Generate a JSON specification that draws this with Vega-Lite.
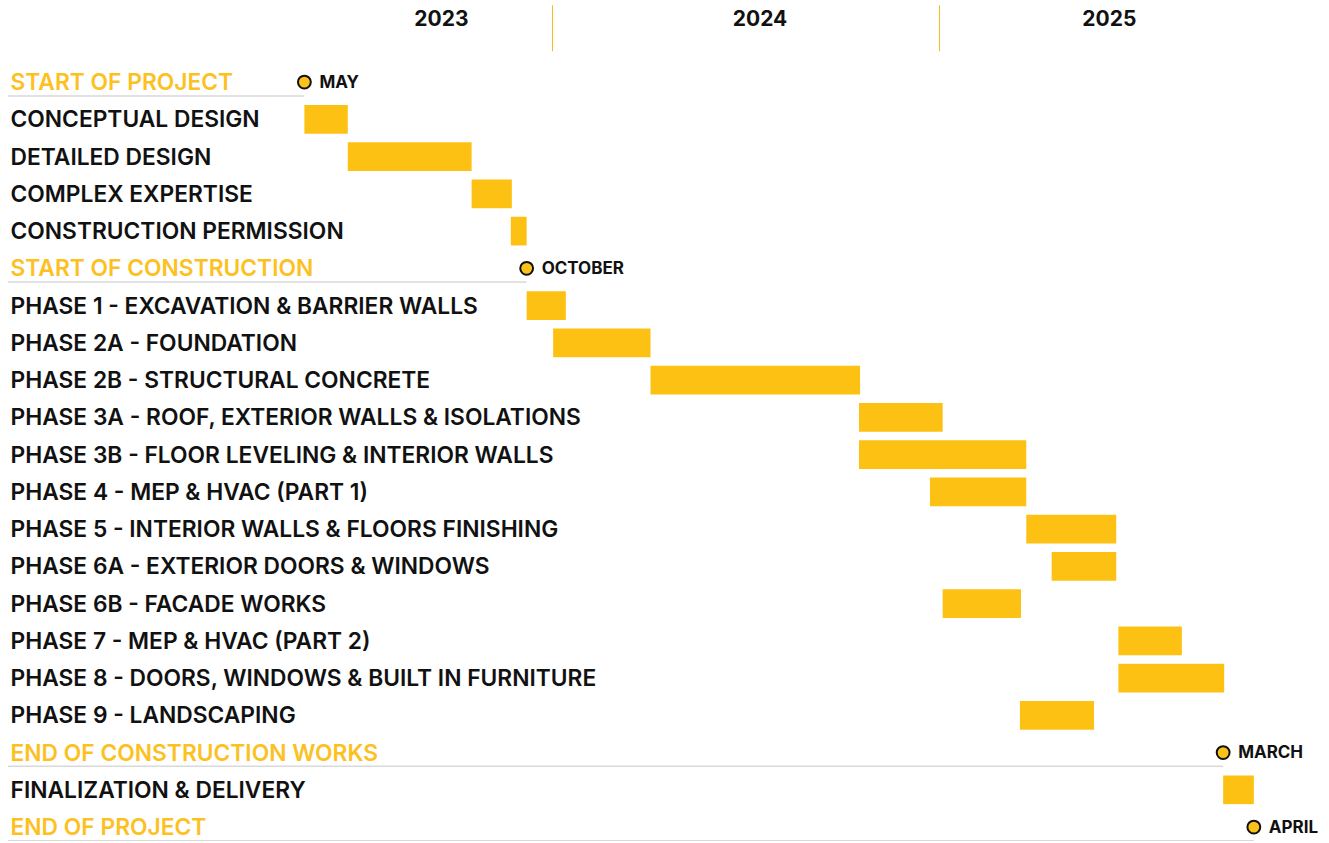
{
  "$schema": "https://vega.github.io/schema/vega-lite/v6.json",
  "width": 1321,
  "height": 773.7,
  "autosize": {"type": "none"},
  "padding": {"top": 67.75, "left": 8, "right": 0, "bottom": 0},
  "background": "white",
  "config": {"view": {"stroke": null}, "font": "Inter"},
  "data": {"values": [
    {"task": "START OF PROJECT", "type": "milestone", "start": "2023-05-12", "label": "MAY"},
    {"task": "CONCEPTUAL DESIGN", "type": "task", "start": "2023-05-12", "end": "2023-06-22"},
    {"task": "DETAILED DESIGN", "type": "task", "start": "2023-06-22", "end": "2023-10-17"},
    {"task": "COMPLEX EXPERTISE", "type": "task", "start": "2023-10-17", "end": "2023-11-24"},
    {"task": "CONSTRUCTION PERMISSION", "type": "task", "start": "2023-11-23", "end": "2023-12-08"},
    {"task": "START OF CONSTRUCTION", "type": "milestone", "start": "2023-12-08", "label": "OCTOBER"},
    {"task": "PHASE 1 - EXCAVATION & BARRIER WALLS", "type": "task", "start": "2023-12-08", "end": "2024-01-14"},
    {"task": "PHASE 2A - FOUNDATION", "type": "task", "start": "2024-01-02", "end": "2024-04-03"},
    {"task": "PHASE 2B - STRUCTURAL CONCRETE", "type": "task", "start": "2024-04-03", "end": "2024-10-18"},
    {"task": "PHASE 3A - ROOF, EXTERIOR WALLS & ISOLATIONS", "type": "task", "start": "2024-10-17", "end": "2025-01-04"},
    {"task": "PHASE 3B - FLOOR LEVELING & INTERIOR WALLS", "type": "task", "start": "2024-10-17", "end": "2025-03-24"},
    {"task": "PHASE 4 - MEP & HVAC (PART 1)", "type": "task", "start": "2024-12-23", "end": "2025-03-24"},
    {"task": "PHASE 5 - INTERIOR WALLS & FLOORS FINISHING", "type": "task", "start": "2025-03-24", "end": "2025-06-17"},
    {"task": "PHASE 6A - EXTERIOR DOORS & WINDOWS", "type": "task", "start": "2025-04-17", "end": "2025-06-17"},
    {"task": "PHASE 6B - FACADE WORKS", "type": "task", "start": "2025-01-04", "end": "2025-03-19"},
    {"task": "PHASE 7 - MEP & HVAC (PART 2)", "type": "task", "start": "2025-06-19", "end": "2025-08-18"},
    {"task": "PHASE 8 - DOORS, WINDOWS & BUILT IN FURNITURE", "type": "task", "start": "2025-06-19", "end": "2025-09-27"},
    {"task": "PHASE 9 - LANDSCAPING", "type": "task", "start": "2025-03-18", "end": "2025-05-27"},
    {"task": "END OF CONSTRUCTION WORKS", "type": "milestone", "start": "2025-09-26", "label": "MARCH"},
    {"task": "FINALIZATION & DELIVERY", "type": "task", "start": "2025-09-26", "end": "2025-10-25"},
    {"task": "END OF PROJECT", "type": "milestone", "start": "2025-10-25", "label": "APRIL"}
  ]},
  "resolve": {"scale": {"x": "shared", "y": "shared"}, "axis": {"x": "independent"}},
  "layer": [
    {
      "transform": [{"filter": "datum.type === 'task'"}],
      "mark": {"type": "bar", "color": "#FDC114", "cornerRadius": 0},
      "encoding": {
        "y": {
          "field": "task", "type": "nominal",
          "scale": {
            "domain": ["START OF PROJECT", "CONCEPTUAL DESIGN", "DETAILED DESIGN", "COMPLEX EXPERTISE", "CONSTRUCTION PERMISSION", "START OF CONSTRUCTION", "PHASE 1 - EXCAVATION & BARRIER WALLS", "PHASE 2A - FOUNDATION", "PHASE 2B - STRUCTURAL CONCRETE", "PHASE 3A - ROOF, EXTERIOR WALLS & ISOLATIONS", "PHASE 3B - FLOOR LEVELING & INTERIOR WALLS", "PHASE 4 - MEP & HVAC (PART 1)", "PHASE 5 - INTERIOR WALLS & FLOORS FINISHING", "PHASE 6A - EXTERIOR DOORS & WINDOWS", "PHASE 6B - FACADE WORKS", "PHASE 7 - MEP & HVAC (PART 2)", "PHASE 8 - DOORS, WINDOWS & BUILT IN FURNITURE", "PHASE 9 - LANDSCAPING", "END OF CONSTRUCTION WORKS", "FINALIZATION & DELIVERY", "END OF PROJECT"],
            "paddingInner": 0.2295, "paddingOuter": 0, "round": false
          },
          "axis": {
            "orient": "left", "title": null, "domain": false, "ticks": false, "tickSize": 0, "grid": false,
            "labelAlign": "left", "labelBaseline": "middle", "labelPadding": -2, "labelOffset": 1,
            "labelFont": "Inter", "labelFontSize": 22.8, "labelFontWeight": 600, "labelLimit": 2000, "labelOverlap": false,
            "labelColor": {"condition": {"test": "(indexof(datum.value, 'START OF') === 0) || (indexof(datum.value, 'END OF') === 0)", "value": "#FDC11F"}, "value": "#111111"}
          }
        },
        "x": {
          "field": "start", "type": "temporal",
          "scale": {"type": "utc", "domain": [{"year": 2022, "month": 8, "date": 5, "utc": true}, {"year": 2026, "month": 1, "date": 4, "utc": true}], "nice": false, "round": false},
          "axis": {
            "orient": "top", "title": null, "labels": false, "domain": false, "grid": false,
            "ticks": true, "tickSize": 46, "tickColor": "#F6BE1A", "tickWidth": 1, "offset": 17,
            "values": [{"year": 2024, "month": 1, "date": 1, "utc": true}, {"year": 2025, "month": 1, "date": 1, "utc": true}]
          }
        },
        "x2": {"field": "end"}
      }
    },
    {
      "transform": [{"filter": "datum.type === 'milestone'"}],
      "mark": {"type": "rule", "color": "#D9D9D9", "strokeWidth": 1.5, "orient": "horizontal"},
      "encoding": {
        "y": {"field": "task", "type": "nominal", "bandPosition": 0.98},
        "x": {"field": "start", "type": "temporal", "axis": null}
      }
    },
    {
      "transform": [{"filter": "datum.type === 'milestone'"}],
      "mark": {"type": "circle", "size": 165, "color": "#FCC21B", "opacity": 1, "stroke": "#111111", "strokeWidth": 2},
      "encoding": {
        "y": {"field": "task", "type": "nominal"},
        "x": {
          "field": "start", "type": "temporal",
          "axis": {
            "orient": "top", "title": null, "ticks": false, "tickSize": 0, "domain": false, "grid": false,
            "values": [{"year": 2023, "month": 9, "date": 18, "utc": true}, {"year": 2024, "month": 7, "date": 15, "utc": true}, {"year": 2025, "month": 6, "date": 10, "utc": true}],
            "labelExpr": "utcFormat(datum.value, '%Y')",
            "labelFont": "Inter", "labelFontSize": 21, "labelFontWeight": 700, "labelColor": "#111111",
            "labelPadding": 41.75, "labelBaseline": "alphabetic", "labelAlign": "center", "labelFlush": false, "labelOverlap": false
          }
        }
      }
    },
    {
      "transform": [{"filter": "datum.type === 'milestone'"}],
      "mark": {"type": "text", "align": "left", "baseline": "middle", "dx": 15, "dy": 0.5, "font": "Inter", "fontSize": 17, "fontWeight": 700, "color": "#111111"},
      "encoding": {
        "y": {"field": "task", "type": "nominal"},
        "x": {"field": "start", "type": "temporal", "axis": null},
        "text": {"field": "label"}
      }
    }
  ]
}
